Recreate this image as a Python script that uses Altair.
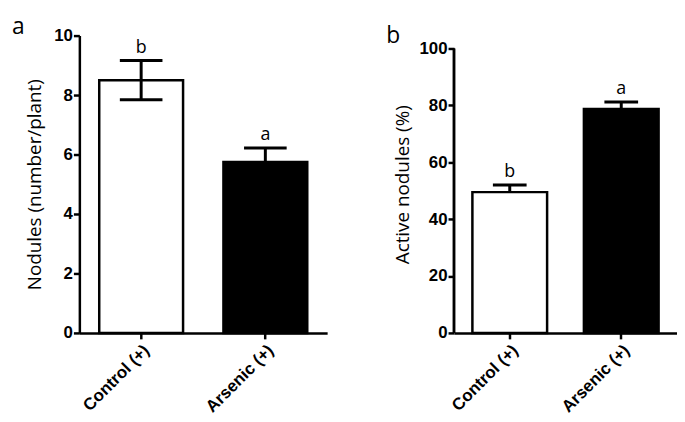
import altair as alt
import pandas as pd

groups = ["Control (+)", "Arsenic (+)"]
nodules_mean = [8.5, 5.75]
nodules_sem = [0.66, 0.47]
nodules_letters = ["b", "a"]
active_mean = [49.5, 78.7]
active_sem = [2.5, 2.5]
active_letters = ["b", "a"]
fills = ["white", "black"]

df_a = pd.DataFrame({
    "group": groups,
    "mean": nodules_mean,
    "lo": [m - s for m, s in zip(nodules_mean, nodules_sem)],
    "hi": [m + s for m, s in zip(nodules_mean, nodules_sem)],
    "letter": nodules_letters,
})
df_b = pd.DataFrame({
    "group": groups,
    "mean": active_mean,
    "hi": [m + s for m, s in zip(active_mean, active_sem)],
    "letter": active_letters,
})

LINE = 2.5
H = 300


def panel(df, ytitle, ymax, ytop, yvalues, width, pin, pout, capsize,
          both, letter, title_dx, title_pad, own_domain):
    x = alt.X("group:N", sort=groups,
              scale=alt.Scale(paddingInner=pin, paddingOuter=pout),
              axis=alt.Axis(title=None, labelAngle=-45, labelAlign="right",
                            labelBaseline="top", labelPadding=3, tickSize=6))
    y_axis = alt.Axis(title=ytitle, values=yvalues, tickSize=6, labelPadding=1,
                      titlePadding=title_pad, domain=not own_domain)
    base = alt.Chart(df)
    bars = base.mark_bar(stroke="black", strokeWidth=LINE).encode(
        x=x,
        y=alt.Y("mean:Q", scale=alt.Scale(domain=[0, ytop], nice=False), axis=y_axis),
        fill=alt.Fill("group:N", scale=alt.Scale(domain=groups, range=fills), legend=None),
    )
    layers = [bars]
    if own_domain:
        layers.append(base.mark_rule(color="black", strokeWidth=LINE).encode(
            x=alt.value(0), y=alt.datum(0), y2=alt.datum(ymax)))
    lower = "lo" if both else "mean"
    layers.append(base.mark_rule(color="black", strokeWidth=3).encode(
        x=alt.X("group:N", sort=groups),
        y=alt.Y(f"{lower}:Q"),
        y2="hi:Q",
    ))
    layers.append(base.mark_tick(color="black", thickness=3, size=capsize, opacity=1).encode(
        x=alt.X("group:N", sort=groups),
        y=alt.Y("hi:Q"),
    ))
    if both:
        layers.append(base.mark_tick(color="black", thickness=3, size=capsize, opacity=1).encode(
            x=alt.X("group:N", sort=groups),
            y=alt.Y("lo:Q"),
        ))
    layers.append(base.mark_text(font="Open Sans", fontSize=18, baseline="alphabetic",
                                 dy=-8, color="black").encode(
        x=alt.X("group:N", sort=groups),
        y=alt.Y("hi:Q"),
        text="letter:N",
    ))
    return alt.layer(*layers).properties(
        width=width, height=H,
        title=alt.TitleParams(letter, anchor="start", frame="bounds", fontSize=23,
                              font="Open Sans", fontWeight="normal", color="black",
                              dx=title_dx, offset=-12),
    )


pa = panel(df_a, "Nodules (number/plant)", 10, 10, [0, 2, 4, 6, 8, 10], 250,
           0.325, 0.16, 43, True, "a", -14, 9, False)
pb = panel(df_b, "Active nodules (%)", 100, 100 * 300 / 287, [0, 20, 40, 60, 80, 100], 225,
           0.33, 0.165, 34, False, "b", -7, 7, True)

chart = alt.hconcat(pa, pb, spacing=128, bounds="flush").properties(
    padding={"left": 4, "top": 6, "right": 0, "bottom": 0}
).configure_view(
    stroke=None
).configure_axis(
    grid=False,
    domainColor="black", domainWidth=LINE,
    tickColor="black", tickWidth=LINE,
    labelFont="Liberation Sans", labelFontWeight="bold", labelFontSize=17,
    labelColor="black",
    titleFont="Open Sans", titleFontWeight="normal", titleFontSize=19,
    titleColor="black",
)

chart.save("out.html", embed_options={"renderer": "svg", "actions": False})
